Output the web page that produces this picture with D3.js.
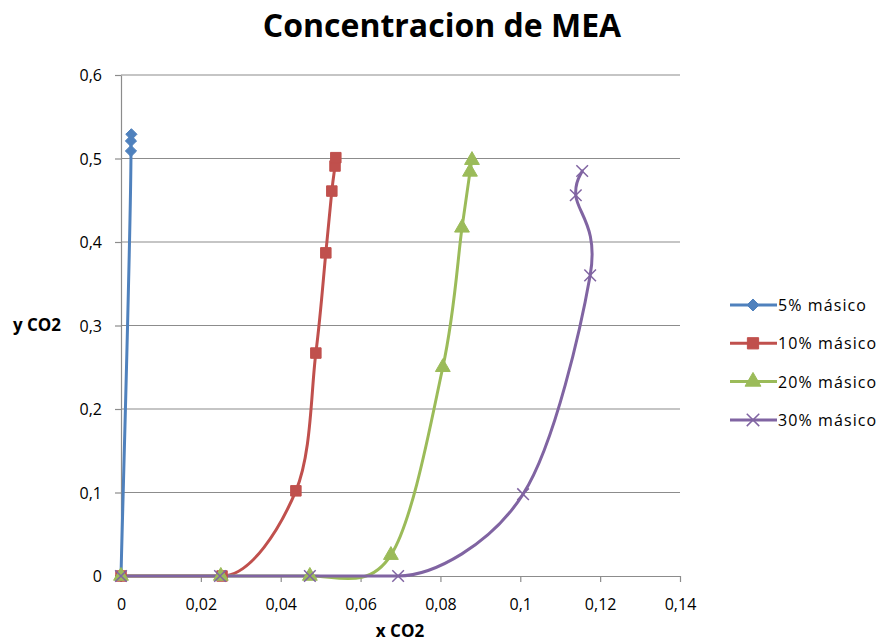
<!DOCTYPE html>
<html>
<head>
<meta charset="utf-8">
<script src="https://cdn.jsdelivr.net/npm/d3@7"></script>
<style>
  html, body { margin: 0; padding: 0; background: #fff; }
  svg { display: block; font-family: "Open Sans", "Liberation Sans", sans-serif; }
</style>
</head>
<body>
<svg id="chart" width="888" height="642"></svg>
<script>
// x CO2 / y CO2 pairs for each MEA concentration
const seriesNames = ["5% másico", "10% másico", "20% másico", "30% másico"];
const x5  = [0, 0.0025, 0.0025, 0.0026];
const y5  = [0, 0.509, 0.521, 0.529];
const x10 = [0, 0.0253, 0.0438, 0.0488, 0.0513, 0.0528, 0.0536, 0.0538];
const y10 = [0, 0, 0.102, 0.267, 0.387, 0.461, 0.491, 0.501];
const x20 = [0, 0.0250, 0.0473, 0.0676, 0.0806, 0.0854, 0.0874, 0.0879];
const y20 = [0, 0, 0, 0.025, 0.250, 0.417, 0.484, 0.498];
const x30 = [0, 0.0248, 0.0473, 0.0694, 0.1007, 0.1175, 0.1139, 0.1155];
const y30 = [0, 0, 0, 0, 0.098, 0.360, 0.456, 0.485];
const xTicks = [0, 0.02, 0.04, 0.06, 0.08, 0.1, 0.12, 0.14];
const yTicks = [0, 0.1, 0.2, 0.3, 0.4, 0.5, 0.6];

const colors = ["#4F81BD", "#C0504D", "#9BBB59", "#8064A2"];
const symbols = [d3.symbolDiamond2, d3.symbolSquare, d3.symbolTriangle, d3.symbolX];
const symSizes = [80, 110, 95, 90];

const xs = [x5, x10, x20, x30], ys = [y5, y10, y20, y30];
const series = seriesNames.map((name, i) => ({
  name, color: colors[i], symbol: symbols[i], size: symSizes[i],
  points: xs[i].map((x, j) => ({ x, y: ys[i][j] }))
}));

const svg = d3.select("#chart");
const plotL = 121, plotR = 680, plotT = 75, plotB = 576;
const xScale = d3.scaleLinear().domain([0, 0.14]).range([plotL, plotR]);
const yScale = d3.scaleLinear().domain([0, 0.6]).range([plotB, plotT]);
const fmt = d => d3.format("")(d).replace(".", ",");

// title
svg.append("text")
  .attr("x", 442).attr("y", 37)
  .attr("text-anchor", "middle")
  .attr("font-size", 32).attr("font-weight", "bold")
  .attr("fill", "#000")
  .text("Concentracion de MEA");

// horizontal gridlines
svg.append("g").selectAll("line")
  .data(yTicks.filter(t => t > 0))
  .join("line")
  .attr("x1", plotL).attr("x2", plotR)
  .attr("y1", d => yScale(d)).attr("y2", d => yScale(d))
  .attr("stroke", "#8c8c8c").attr("stroke-width", 1.2);

// axes
const xAxis = d3.axisBottom(xScale).tickValues(xTicks).tickFormat(fmt).tickSize(6).tickSizeOuter(0);
const yAxis = d3.axisLeft(yScale).tickValues(yTicks).tickFormat(fmt).tickSize(6).tickSizeOuter(0);

const gx = svg.append("g").attr("transform", `translate(0,${plotB})`).call(xAxis);
const gy = svg.append("g").attr("transform", `translate(${plotL},0)`).call(yAxis);
[gx, gy].forEach(g => {
  g.select(".domain").attr("stroke", "#8c8c8c").attr("stroke-width", 1.2);
  g.selectAll(".tick line").attr("stroke", "#8c8c8c").attr("stroke-width", 1.2);
  g.selectAll(".tick text").attr("font-size", 16).attr("fill", "#000")
    .attr("font-family", "\"Open Sans\", sans-serif");
});
gx.selectAll(".tick text").attr("y", 34).attr("dy", 0);
gy.selectAll(".tick text").attr("x", -19).attr("dy", "0.36em");

// axis titles
svg.append("text").attr("x", 400).attr("y", 637).attr("text-anchor", "middle")
  .attr("font-size", 17).attr("font-weight", "bold").text("x CO2");
svg.append("text").attr("x", 37).attr("y", 331).attr("text-anchor", "middle")
  .attr("font-size", 17).attr("font-weight", "bold").text("y CO2");

// smoothed line: Catmull-Rom style cubic Béziers, with flat tangents on
// plateaus and control arms limited to a share of each segment's length
function smoothPath(points) {
  const P = points.map(d => [xScale(d.x), yScale(d.y)]);
  const n = P.length;
  const tan = P.map((p, i) => {
    const a = P[Math.max(i - 1, 0)], b = P[Math.min(i + 1, n - 1)];
    const t = [(b[0] - a[0]) / 2, (b[1] - a[1]) / 2];
    for (let c = 0; c < 2; c++) {
      const dPrev = i > 0 ? p[c] - P[i - 1][c] : null;
      const dNext = i < n - 1 ? P[i + 1][c] - p[c] : null;
      if ((dPrev !== null && Math.abs(dPrev) < 1e-6) || (dNext !== null && Math.abs(dNext) < 1e-6)) t[c] = 0;
    }
    return t;
  });
  const clampArm = (v, maxLen) => {
    const len = Math.hypot(v[0], v[1]);
    return len > maxLen && len > 0 ? [v[0] * maxLen / len, v[1] * maxLen / len] : v;
  };
  const path = d3.path();
  path.moveTo(P[0][0], P[0][1]);
  for (let i = 0; i < n - 1; i++) {
    const p0 = P[i], p1 = P[i + 1];
    const L = Math.hypot(p1[0] - p0[0], p1[1] - p0[1]);
    const a = clampArm([tan[i][0] / 3, tan[i][1] / 3], L * 0.6);
    const b = clampArm([tan[i + 1][0] / 3, tan[i + 1][1] / 3], L * 0.6);
    path.bezierCurveTo(p0[0] + a[0], p0[1] + a[1], p1[0] - b[0], p1[1] - b[1], p1[0], p1[1]);
  }
  return path.toString();
}

const gs = svg.append("g");
series.forEach(s => {
  gs.append("path")
    .attr("d", smoothPath(s.points)).attr("fill", "none")
    .attr("stroke", s.color).attr("stroke-width", 3)
    .attr("stroke-linejoin", "round").attr("stroke-linecap", "round");
});

// markers
function drawMarker(g, s, cx, cy, scale = 1) {
  const isX = s.symbol === d3.symbolX;
  g.append("path")
    .attr("transform", `translate(${cx},${cy})`)
    .attr("d", d3.symbol().type(s.symbol).size(s.size * scale)())
    .attr("fill", isX ? "none" : s.color)
    .attr("stroke", s.color)
    .attr("stroke-width", isX ? 1.5 : 1);
}
series.forEach(s => {
  const gm = svg.append("g");
  s.points.forEach(p => drawMarker(gm, s, xScale(p.x), yScale(p.y)));
});

// legend
const legend = svg.append("g");
series.forEach((s, i) => {
  const y = 305 + i * 38.3;
  legend.append("line").attr("x1", 730).attr("x2", 777).attr("y1", y).attr("y2", y)
    .attr("stroke", s.color).attr("stroke-width", 3);
  drawMarker(legend, s, 753, y, 1.15);
  legend.append("text").attr("x", 778).attr("y", y + 6)
    .attr("font-size", 16).attr("letter-spacing", 1.1)
    .attr("fill", "#000").text(s.name);
});
</script>
</body>
</html>
